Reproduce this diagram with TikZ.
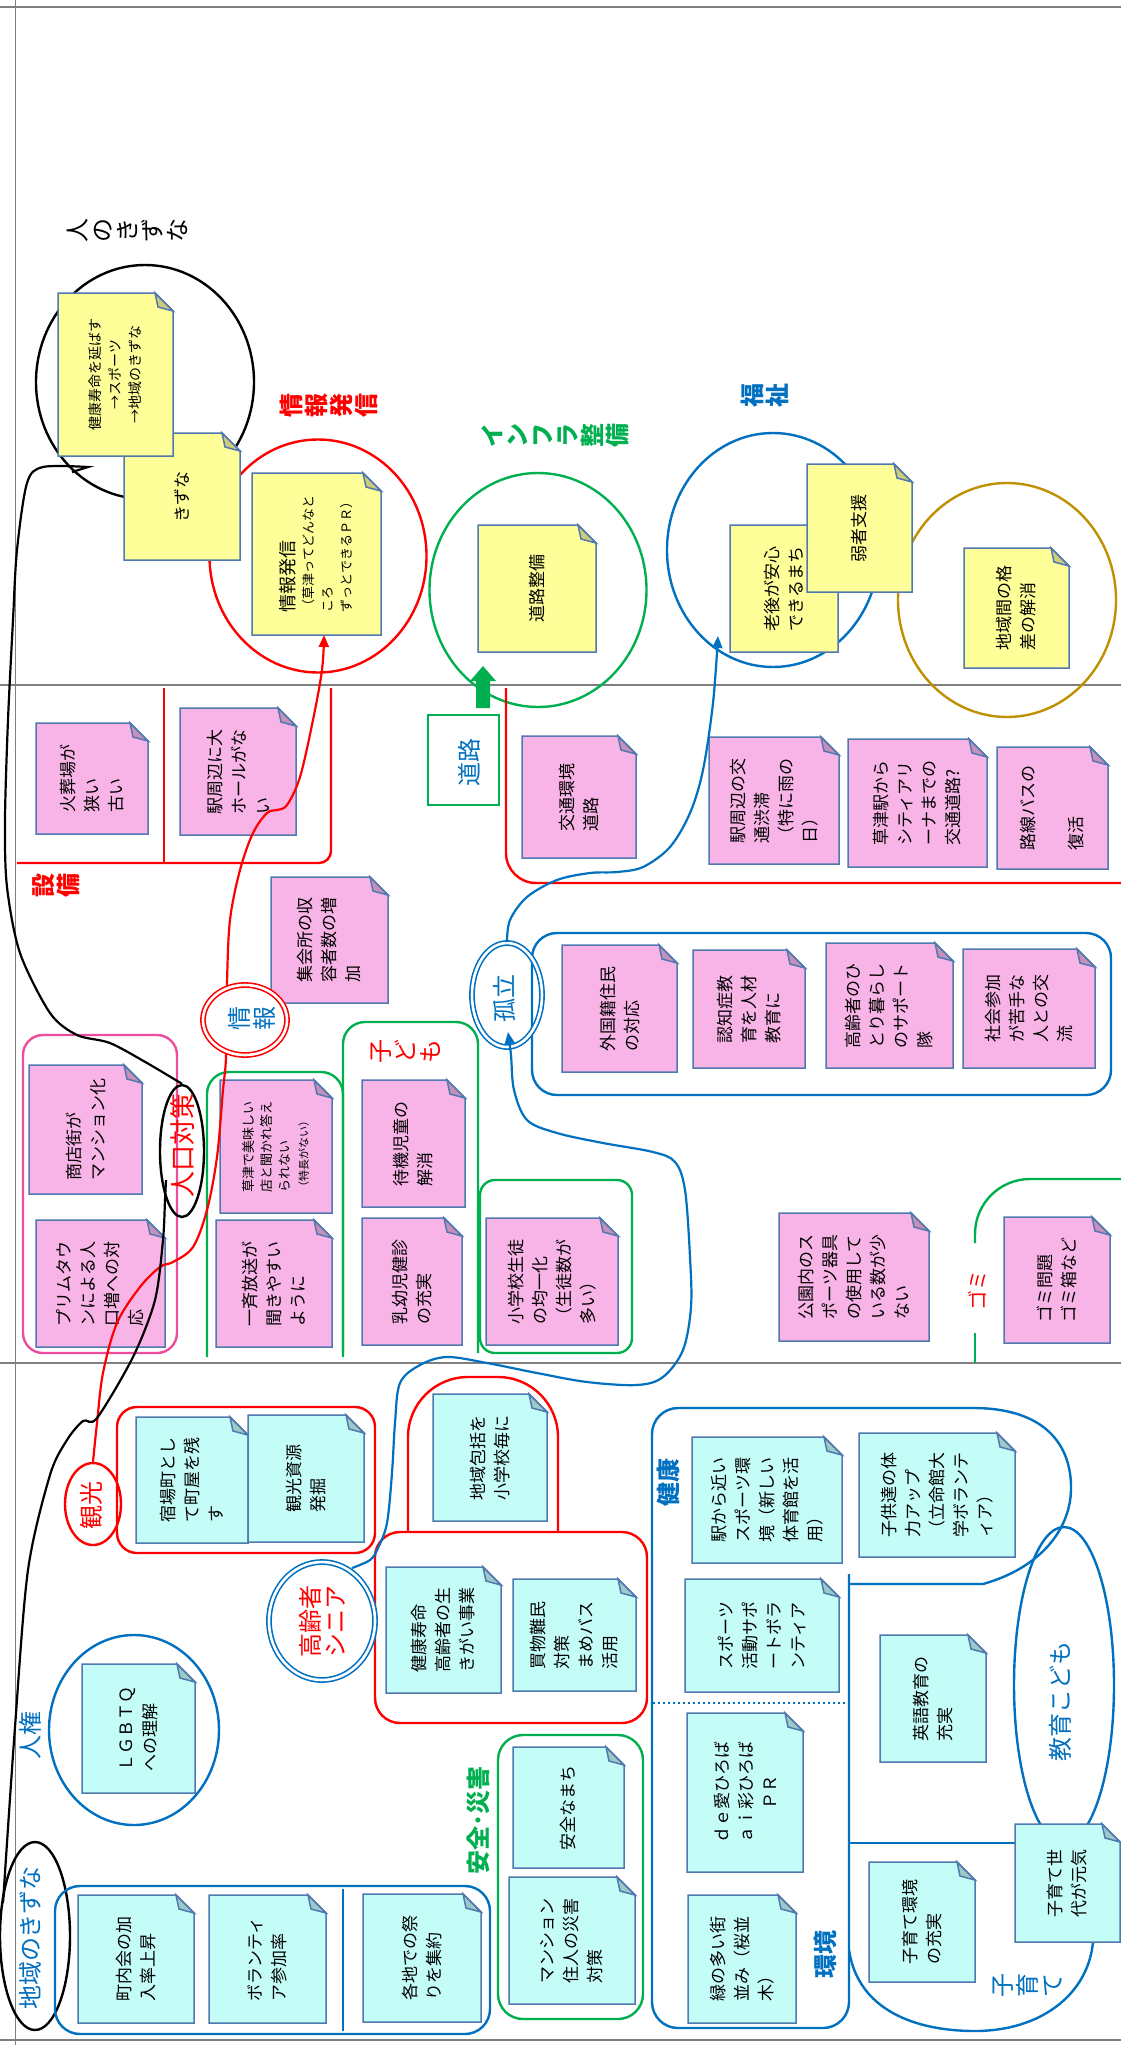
\documentclass[tikz,border=0pt]{standalone}
\usepackage{fontspec}
\setmainfont{Noto Sans CJK JP}
\usetikzlibrary{arrows.meta,shapes.geometric}
\definecolor{cblue}{HTML}{0070C0}
\definecolor{cred}{HTML}{FF0000}
\definecolor{cgreen}{HTML}{00B050}
\definecolor{cgold}{HTML}{BF9000}
\definecolor{cmag}{HTML}{EE4C9E}
\definecolor{nbord}{HTML}{5079B0}
\definecolor{yelfill}{HTML}{FFFF99}
\definecolor{yelfold}{HTML}{CCCC7A}
\definecolor{pnkfill}{HTML}{F8B4E6}
\definecolor{pnkfold}{HTML}{C690B8}
\definecolor{cynfill}{HTML}{C4FCF8}
\definecolor{cynfold}{HTML}{9DC9C6}
\definecolor{gridc}{HTML}{7F7F7F}
\newcommand{\snote}[8]{%
  \filldraw[nbd, fill=#6fill] (#2,#3) -- ({#4-18},#3) -- (#4,{#3+18}) -- (#4,#5) -- (#2,#5) -- cycle;
  \filldraw[nbd, fill=#6fold] ({#4-18},#3) -- (#4,{#3+18}) -- ({#4-15},{#3+14}) -- cycle;
  \node[notetxt,#7] (#1) at ({(#2+#4)/2},{(#3+#5)/2}) {#8};}
\begin{document}
\begin{tikzpicture}[x=1pt,y=-1pt,
  nbd/.style={draw=nbord, line width=1.5pt},
  notetxt/.style={rotate=90, align=left, inner sep=0pt, font=\fontsize{17}{24}\selectfont},
  lab/.style={inner sep=0pt, font=\fontsize{24}{25}\selectfont},
  blab/.style={inner sep=0pt, font=\fontsize{24}{25}\selectfont\bfseries},
  vlab/.style={lab, rotate=90, align=center},
  vblab/.style={blab, rotate=90, align=center},
  rlab/.style={lab, rotate=90, align=center},
  rblab/.style={blab, rotate=90, align=center},
  gridln/.style={draw=gridc, line width=1.6pt},
  thk/.style={line width=2.4pt},
  ell/.style={ellipse, inner sep=0pt, line width=2.4pt},
  dbl/.style={ellipse, inner sep=0pt, double, double distance=2.6pt, line width=1.6pt},
  conn/.style={line width=2.2pt},
  tipa/.style={-{Triangle[length=12pt,width=10pt]}}
]
\useasboundingbox (0,0) rectangle (1121,2045);
\fill[white] (0,0) rectangle (1121,2045);
% grid
\draw[gridln] (0,7) -- (1121,7);
\draw[gridln] (0,685) -- (1121,685);
\draw[gridln] (0,1363) -- (1121,1363);
\draw[gridln] (0,2040) -- (1121,2040);
\draw[gridln] (15.5,0) -- (15.5,2045);

% ===== top row =====
\node[vlab] (hitoL) at (127,230) {人\\の\\き\\ず\\な};
\node[ell, draw=black, minimum width=218pt, minimum height=234pt] (kzC) at (145,382) {};
\node[vblab, text=cred] (jhL) at (329,405) {情\\報\\発\\信};
\node[ell, draw=cred, minimum width=217pt, minimum height=233pt] (jhC) at (318,556) {};
\node[vblab, text=cgreen] (infL) at (555,435) {イ\\ン\\フ\\ラ\\整\\備};
\node[ell, draw=cgreen, minimum width=217pt, minimum height=234pt] (infC) at (538,590) {};
\node[vblab, text=cblue] (fkL) at (765,395) {福\\祉};
\node[ell, draw=cblue, minimum width=212pt, minimum height=234pt] (fkC) at (773,550) {};
\node[ell, draw=cgold, minimum width=218pt, minimum height=234pt] (gdC) at (1007,600) {};

\snote{y2}{124}{433}{240}{560}{yel}{}{きずな}
\snote{y1}{58}{293}{173}{456}{yel}{align=center,font=\fontsize{14}{20}\selectfont}{健康寿命を延ばす\\→スポーツ\\→地域のきずな}
\snote{y3}{252}{473}{381}{635}{yel}{font=\fontsize{13}{19}\selectfont}{{\fontsize{18}{19}\selectfont 情報発信}\\（草津ってどんなと\\ころ\\ずっとできるＰＲ）}
\snote{y4}{478}{525}{596}{652}{yel}{}{道路整備}
\snote{y5}{730}{525}{838}{652}{yel}{}{老後が安心\\できるまち}
\snote{y6}{807}{464}{912}{592}{yel}{}{弱者支援}
\snote{y7}{964}{548}{1069}{668}{yel}{}{地域間の格\\差の解消}

% ===== middle row =====
\node[vblab, text=cred] (sbL) at (56,885) {設\\備};
\draw[cred, thk, rounded corners=12] (17,863) -- (331,863) -- (331,688);
\draw[cred, thk] (164,688) -- (164,863);
\snote{p1}{36}{723}{148}{834}{pnk}{}{火葬場が\\狭い\\古い}
\snote{p2}{180}{708}{296}{835}{pnk}{}{駅周辺に大\\ホールがな\\い}
\snote{p3}{271}{877}{388}{1003}{pnk}{}{集会所の収\\容者数の増\\加}

\draw[cmag, thk, rounded corners=20] (23,1035) rectangle (177,1353);
\snote{p4}{29}{1065}{142}{1194}{pnk}{}{商店街が\\マンション化}
\snote{p5}{36}{1220}{165}{1347}{pnk}{}{プリムタウ\\ンによる人\\口増への対\\応}

\node[ell, draw=black, minimum width=44pt, minimum height=132pt] (jkE) at (182,1151) {};
\node[rlab, text=cred, font=\fontsize{26}{27}\selectfont] (jkL) at (183,1145) {人口対策};

\draw[cgreen, thk, rounded corners=22] (207,1357) -- (207,1072) -- (343,1072) -- (343,1357);
\draw[cgreen, thk, rounded corners=22] (343,1353) -- (343,1022) -- (478,1022) -- (478,1353);
\draw[cgreen, thk, rounded corners=15] (480,1180) rectangle (632,1353);
\node[vlab, text=cred] (kdL) at (406,1051) {子\\ど\\も};
\snote{p6}{220}{1080}{332}{1213}{pnk}{font=\fontsize{13}{18}\selectfont}{草津で美味しい\\店と聞かれ答え\\られない\\{\fontsize{11}{18}\selectfont （特長がない）}}
\snote{p7}{216}{1220}{332}{1347}{pnk}{}{一斉放送が\\聞きやすい\\ように}
\snote{p8}{362}{1080}{465}{1207}{pnk}{}{待機児童の\\解消}
\snote{p9}{362}{1218}{462}{1345}{pnk}{}{乳幼児健診\\の充実}
\snote{p10}{486}{1218}{618}{1345}{pnk}{}{小学校生徒\\の均一化\\（生徒数が\\多い）}

\draw[cred, thk, rounded corners=30] (506,688) -- (506,883) -- (1121,883);
\node[draw=cgreen, line width=2.2pt, minimum width=71pt, minimum height=90pt, inner sep=0pt] (drB) at (463.5,760) {};
\node[rlab, text=cblue] (drL) at (469,762) {道路};
\fill[cgreen] (476,708) -- (476,681) -- (470,681) -- (483,666) -- (496,681) -- (490,681) -- (490,708) -- cycle;
\snote{p11}{522}{736}{636}{858}{pnk}{}{交通環境\\道路}
\snote{p12}{709}{737}{839}{864}{pnk}{}{駅周辺の交\\通渋滞\\（特に雨の\\日）}
\snote{p13}{848}{739}{987}{867}{pnk}{}{草津駅から\\シティアリ\\ーナまでの\\交通道路?}
\snote{p14}{997}{747}{1108}{869}{pnk}{}{路線バスの\\\\復活}

\draw[cblue, thk, rounded corners=25] (532,933) rectangle (1111,1095);
\snote{p15}{562}{945}{677}{1072}{pnk}{}{外国籍住民\\の対応}
\snote{p16}{693}{950}{805}{1068}{pnk}{}{認知症教\\育を人材\\教育に}
\snote{p17}{826}{943}{953}{1068}{pnk}{}{高齢者のひ\\とり暮らし\\のサポート\\隊}
\snote{p18}{963}{949}{1095}{1068}{pnk}{}{社会参加\\が苦手な\\人との交\\流}
\node[dbl, draw=cblue, minimum width=70pt, minimum height=104pt] (krE) at (507,995) {};
\node[rlab, text=cblue] (krL) at (504,998) {孤立};

\snote{p19}{779}{1213}{929}{1341}{pnk}{}{公園内のス\\ポーツ器具\\の使用して\\いる数が少\\ない}
\draw[cgreen, thk] (975,1363) -- (975,1333);
\draw[cgreen, thk, rounded corners=55] (975,1243) -- (975,1179) -- (1121,1179);
\node[rlab, text=cred, font=\fontsize{20}{22}\selectfont] (gmL) at (977,1290) {ゴミ};
\snote{p20}{1004}{1217}{1110}{1343}{pnk}{}{ゴミ問題\\ゴミ箱など}

% ===== bottom row =====
\node[ell, draw=cred, minimum width=56pt, minimum height=82pt] (kkE) at (93,1504) {};
\node[rlab, text=cred] (kkL) at (91,1505) {観光};
\draw[cred, thk, rounded corners=20] (117,1407) rectangle (375,1553);
\snote{c1}{136}{1417}{248}{1543}{cyn}{}{宿場町とし\\て町屋を残\\す}
\snote{c2}{248}{1415}{364}{1542}{cyn}{}{観光資源\\発掘}

\draw[cred, thk, rounded corners=60] (408,1532) -- (408,1377) -- (558,1377) -- (558,1532);
\snote{c3}{433}{1394}{547}{1521}{cyn}{}{地域包括を\\小学校毎に}
\draw[cred, thk, rounded corners=25] (375,1532) rectangle (647,1723);
\snote{c4}{386}{1567}{501}{1693}{cyn}{}{健康寿命\\高齢者の生\\きがい事業}
\snote{c5}{513}{1579}{636}{1691}{cyn}{}{買物難民\\対策\\まめバス\\活用}
\node[dbl, draw=cblue, fill=white, minimum width=106pt, minimum height=118pt] (krS) at (322,1621) {};
\node[rlab, text=cred] (krSL) at (322,1621) {高齢者\\シニア};

\node[rlab, text=cblue] (jkenL) at (30,1735) {人権};
\node[ell, draw=cblue, minimum width=170pt, minimum height=190pt] (lgC) at (134,1730) {};
\snote{c6}{82}{1664}{195}{1793}{cyn}{}{ＬＧＢＴＱ\\への理解}

\node[rlab, text=cblue] (ckL) at (30,1938) {地域のきずな};
\node[ell, draw=black, minimum width=70pt, minimum height=188pt] (ckE) at (35,1936) {};
\draw[cblue, thk, rounded corners=25] (55,1886) rectangle (490,2034);
\draw[cblue, line width=1.2pt] (343,1889) -- (343,2031);
\snote{c7}{78}{1895}{194}{2023}{cyn}{}{町内会の加\\入率上昇}
\snote{c8}{209}{1895}{326}{2023}{cyn}{}{ボランティ\\ア参加率}
\snote{c9}{363}{1894}{481}{2022}{cyn}{}{各地での祭\\りを集約}

\node[rblab, text=cgreen] (anL) at (478,1820) {安全･災害};
\draw[cgreen, thk, rounded corners=25] (498,1735) rectangle (643,2019);
\snote{c10}{513}{1747}{624}{1868}{cyn}{}{安全なまち}
\snote{c11}{509}{1877}{635}{2004}{cyn}{}{マンション\\住人の災害\\対策}

\draw[cblue, thk] (973,1408) .. controls (1045,1408) and (1072,1445) .. (1071,1490) .. controls (1070,1530) and (1040,1568) .. (983,1584) -- (849,1584);
\draw[cblue, thk, rounded corners=26] (973,1408) -- (652,1408) -- (652,2028) -- (849,2028) -- (849,1574);
\draw[cblue, line width=2pt, dash pattern=on 2pt off 3pt] (653,1703) -- (848,1703);
\node[rblab, text=cblue] (kkoL) at (668,1482) {健康};
\node[rblab, text=cblue] (kkyL) at (825,1954) {環境};
\snote{c12}{692}{1437}{842}{1563}{cyn}{}{駅から近い\\スポーツ環\\境（新しい\\体育館を活\\用）}
\snote{c13}{859}{1433}{1015}{1557}{cyn}{}{子供達の体\\力アップ\\（立命館大\\学ボランテ\\ィア）}
\snote{c14}{685}{1579}{839}{1692}{cyn}{}{スポーツ\\活動サポ\\ートボラ\\ンティア}
\snote{c15}{687}{1713}{803}{1872}{cyn}{align=center}{ｄｅ愛ひろば\\ａｉ彩ひろば\\ＰＲ}
\snote{c16}{688}{1895}{796}{2023}{cyn}{}{緑の多い街\\並み（桜並\\木）}

\draw[cblue, thk] (849,1843) -- (1015,1843);
\draw[cblue, thk] (849,1950) .. controls (858,2010) and (915,2031) .. (975,2031) .. controls (1040,2031) and (1088,1995) .. (1093,1942);
\node[ell, draw=cblue, minimum width=100pt, minimum height=316pt] (kyE) at (1064,1685) {};
\node[rlab, text=cblue] (kyL) at (1060,1701) {教育こども};
\snote{c17}{880}{1635}{986}{1762}{cyn}{}{英語教育の\\充実}
\snote{c18}{869}{1862}{975}{1982}{cyn}{}{子育て環境\\の充実}
\snote{c19}{1015}{1824}{1120}{1942}{cyn}{}{子育て世\\代が元気}
\node[vlab, text=cblue] (kosL) at (1028,1985) {子\\育\\て};

% ===== connectors =====
\coordinate (jhbot) at (324,635);
\coordinate (kzEnd) at (88,467);
\coordinate (jkIn) at (166,1180);
\coordinate (ckIn) at (3,1903);
\coordinate (fkPt) at (718,636);
\coordinate (krBot) at (508,1032);
\coordinate (ksPt) at (352,1568);

\draw[cred, conn, tipa] plot[smooth, tension=0.55] coordinates {(kkE.north) (97,1423) (103,1373) (117,1323) (140,1287) (160,1267) (173,1262) (193,1247) (207,1210) (217,1157) (223,1090) (226,1057) (227,983) (230,920) (240,870) (253,833) (267,813) (277,810) (287,805) (300,777) (313,720) (322,670) (jhbot)};

\draw[black, conn] plot[smooth, tension=0.5] coordinates {(jkE.north) (147,1063) (110,1043) (77,1035) (50,1013) (20,953) (7,887) (5,820) (8,720) (13,620) (17,550) (27,483) (43,467) (kzEnd)} -- (72,472);
\draw[black, conn] plot[smooth, tension=0.5] coordinates {(jkIn) (165,1200) (163,1240) (155,1300) (133,1357) (97,1418) (83,1421) (67,1440) (50,1475) (28,1570) (15,1727) (ckIn)};

\draw[cblue, conn, tipa] plot[smooth, tension=0.55] coordinates {(krE.north) (510,920) (527,897) (557,880) (590,873) (617,872) (643,867) (670,847) (690,813) (703,770) (713,703) (fkPt)};
\draw[cblue, conn, tipa] plot[smooth, tension=0.55] coordinates {(ksPt) (370,1560) (378,1548) (387,1523) (392,1473) (395,1423) (400,1383) (420,1365) (447,1357) (487,1363) (537,1373) (587,1382) (637,1385) (663,1377) (683,1350) (691,1307) (690,1257) (685,1190) (675,1162) (653,1152) (603,1143) (557,1133) (527,1120) (514,1090) (511,1055) (krBot)};

\node[dbl, draw=cred, fill=white, minimum width=84pt, minimum height=70pt] (jhE) at (245,1020) {};
\node[vlab, text=cblue] (jhEL) at (252,1018) {情\\報};
\end{tikzpicture}
\end{document}
